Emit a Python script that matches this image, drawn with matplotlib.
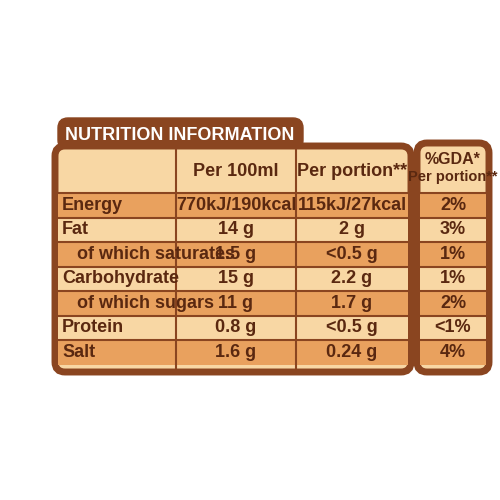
import matplotlib.pyplot as plt
from matplotlib.patches import FancyBboxPatch, Rectangle

plt.rcParams['font.family'] = ['Liberation Sans Narrow', 'Liberation Sans', 'DejaVu Sans']

nutrients = ["Energy", "Fat", "   of which saturates", "Carbohydrate",
             "   of which sugars", "Protein", "Salt"]
per_100ml = ["770kJ/190kcal", "14 g", "1.5 g", "15 g", "11 g", "0.8 g", "1.6 g"]
per_portion = ["115kJ/27kcal", "2 g", "<0.5 g", "2.2 g", "1.7 g", "<0.5 g", "0.24 g"]
gda = ["2%", "3%", "1%", "1%", "2%", "<1%", "4%"]

brown = "#8a4520"
text_c = "#5a2810"
orange = "#e9a15e"
cream = "#f8d7a4"
fs = 13

fig = plt.figure(figsize=(5, 5), dpi=100)
ax = fig.add_axes([0, 0, 1, 1])
ax.set_xlim(0, 500)
ax.set_ylim(500, 0)
ax.axis("off")

# header tab
ax.add_patch(FancyBboxPatch((58, 118), 245, 32, boxstyle="round,pad=0,rounding_size=10",
                            fc=brown, ec=brown))
ax.text(180, 135, "NUTRITION INFORMATION", color="white", fontsize=13,
        fontweight="bold", ha="center", va="center")

# main table
ax.add_patch(FancyBboxPatch((55, 146), 356, 226, boxstyle="round,pad=0,rounding_size=10",
                            fc=cream, ec=brown, lw=5))
ax.add_patch(FancyBboxPatch((417, 143), 72, 229, boxstyle="round,pad=0,rounding_size=10",
                            fc=cream, ec=brown, lw=5))

top = 193
h = 24.5
for i in range(len(nutrients)):
    y = top + i * h
    fc = orange if i % 2 == 0 else cream
    ax.add_patch(Rectangle((58, y), 350, h, fc=fc, ec="none"))
    ax.add_patch(Rectangle((420, y), 66, h, fc=fc, ec="none"))
    ax.plot([58, 408], [y, y], color=brown, lw=1.5)
    ax.plot([420, 486], [y, y], color=brown, lw=1.5)
    cy = y + h / 2
    ax.text(62, cy, nutrients[i], color=text_c, fontsize=fs, fontweight="bold",
            va="center", ha="left")
    ax.text(236, cy, per_100ml[i], color=text_c, fontsize=fs, fontweight="bold",
            va="center", ha="center")
    ax.text(352, cy, per_portion[i], color=text_c, fontsize=fs, fontweight="bold",
            va="center", ha="center")
    ax.text(453, cy, gda[i], color=text_c, fontsize=fs, fontweight="bold",
            va="center", ha="center")

for x in (176, 296):
    ax.plot([x, x], [148, 370], color=brown, lw=1.5)

ax.text(236, 171, "Per 100ml", color=text_c, fontsize=fs, fontweight="bold",
        ha="center", va="center")
ax.text(352, 171, "Per portion**", color=text_c, fontsize=fs, fontweight="bold",
        ha="center", va="center")
ax.text(453, 159, "%GDA*", color=text_c, fontsize=11.5, fontweight="bold",
        ha="center", va="center")
ax.text(453, 177, "Per portion**", color=text_c, fontsize=10.5, fontweight="bold",
        ha="center", va="center")

fig.savefig("out.png", dpi=100, facecolor="white")
